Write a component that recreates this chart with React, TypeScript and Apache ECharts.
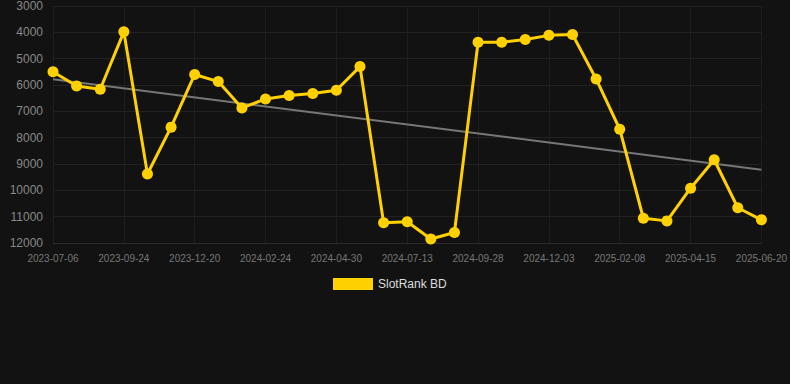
import React, { useEffect, useRef } from "react";
import * as echarts from "echarts";

const dates = [
  "2023-07-06", "2023-07-31", "2023-08-27", "2023-09-24", "2023-10-23", "2023-11-21",
  "2023-12-20", "2024-01-11", "2024-02-02", "2024-02-24", "2024-03-17", "2024-04-08",
  "2024-04-30", "2024-05-24", "2024-06-18", "2024-07-13", "2024-08-08", "2024-09-03",
  "2024-09-28", "2024-10-20", "2024-11-11", "2024-12-03", "2024-12-25", "2025-01-17",
  "2025-02-08", "2025-03-02", "2025-03-24", "2025-04-15", "2025-05-07", "2025-05-29",
  "2025-06-20",
];

const rankValues = [
  5500, 6040, 6160, 3980, 9380, 7600,
  5600, 5870, 6870, 6530, 6400, 6320,
  6200, 5300, 11230, 11190, 11850, 11600,
  4380, 4380, 4270, 4115, 4080, 5770,
  7680, 11060, 11160, 9920, 8840, 10660,
  11120,
];

const trendStart = 5785;
const trendEnd = 9215;

const seriesName = "SlotRank BD";

export default function App() {
  const ref = useRef<HTMLDivElement>(null);
  useEffect(() => {
    document.body.style.margin = "0";
    document.body.style.background = "#121212";
    if (!ref.current) return;
    const chart = echarts.init(ref.current, null, { renderer: "svg" });
    const trendData = dates.map((_, i) =>
      i === 0 ? trendStart : i === dates.length - 1 ? trendEnd : null
    );
    chart.setOption({
      animation: false,
      backgroundColor: "#121212",
      grid: { left: 53, right: 28, top: 6, bottom: 141, containLabel: false },
      legend: {
        data: [{ name: seriesName, icon: "rect" }],
        top: 273,
        left: 328,
        itemWidth: 40,
        itemHeight: 12,
        textStyle: { color: "#dddddd", fontSize: 12, fontFamily: "Arial, Liberation Sans, sans-serif" },
      },
      xAxis: {
        type: "category",
        data: dates,
        boundaryGap: false,
        axisLine: { show: true, lineStyle: { color: "#2a2a2a" } },
        axisTick: { show: false },
        axisLabel: {
          interval: 2,
          color: "#777777",
          fontSize: 10,
          margin: 10,
          fontFamily: "Arial, Liberation Sans, sans-serif",
        },
        splitLine: { show: true, interval: 2, lineStyle: { color: "#1e1e1e" } },
      },
      yAxis: {
        type: "value",
        inverse: true,
        min: 3000,
        max: 12000,
        interval: 1000,
        axisLine: { show: false },
        axisTick: { show: false },
        axisLabel: {
          color: "#888888",
          fontSize: 12,
          margin: 10,
          formatter: (v: number) => String(v),
          fontFamily: "Arial, Liberation Sans, sans-serif",
        },
        splitLine: { show: true, lineStyle: { color: "#222222" } },
      },
      series: [
        {
          name: "trend",
          type: "line",
          data: trendData,
          connectNulls: true,
          showSymbol: false,
          symbol: "none",
          lineStyle: { color: "#777777", width: 2 },
          z: 1,
          silent: true,
        },
        {
          name: seriesName,
          type: "line",
          data: rankValues,
          symbol: "circle",
          symbolSize: 11,
          itemStyle: { color: "#FFD100" },
          lineStyle: { color: "#FFD100", width: 3 },
          z: 2,
        },
      ],
    });
    return () => chart.dispose();
  }, []);
  return <div ref={ref} style={{ width: 790, height: 384 }} />;
}
